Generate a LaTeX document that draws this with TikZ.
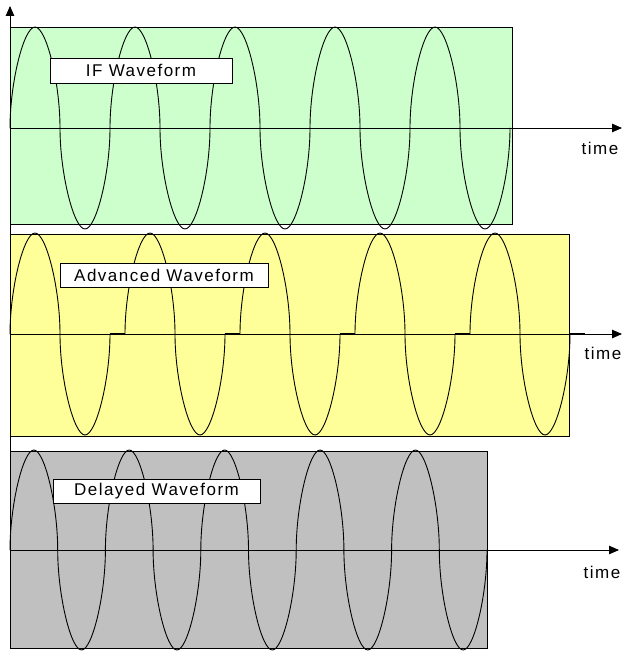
\documentclass[tikz,border=0pt]{standalone}
\usepackage{fontspec}
\newfontfamily\lblfont{Liberation Sans}[LetterSpace=8.8]
\usetikzlibrary{arrows.meta}
\definecolor{ifgreen}{HTML}{CCFFCC}
\definecolor{advyellow}{HTML}{FFFF99}
\definecolor{delgray}{HTML}{C0C0C0}
% one half wave: start x, quarter length, axis y, signed amplitude (positive = up)
\newcommand\wavehalf[4]{%
  \draw[wave] (#1,#3)
    .. controls (#1,{#3-0.45*#4}) and ({#1+0.55*#2},{#3-#4}) .. ({#1+#2},{#3-#4})
    .. controls ({#1+1.45*#2},{#3-#4}) and ({#1+2*#2},{#3-0.45*#4}) .. ({#1+2*#2},#3);}
\begin{document}
\begin{tikzpicture}[x=1pt,y=-1pt,
  panel/.style={draw=black, line width=0.9pt},
  wave/.style={draw=black, line width=0.9pt, line join=round, line cap=round},
  flat/.style={draw=black, line width=1.5pt},
  axis/.style={draw=black, line width=0.9pt, -{Triangle[length=10pt,width=8.5pt]}},
  tag/.style={draw=black, fill=white, line width=0.8pt, inner sep=0pt,
    font=\lblfont\fontsize{17}{20}\selectfont},
  timelbl/.style={inner sep=0pt, font=\lblfont\fontsize{17}{20}\selectfont}]
\useasboundingbox (0,0) rectangle (623,652);

% background panels
\path[panel, fill=ifgreen]   (10,27)  rectangle (512,224);
\path[panel, fill=advyellow] (10,234) rectangle (569,436);
\path[panel, fill=delgray]   (10,451) rectangle (487,648);

% axes
\coordinate (vb) at (10,649);
\coordinate (vt) at (10,6);
\coordinate (o1) at (10,128);  \coordinate (e1) at (622,128);
\coordinate (o2) at (10,334);  \coordinate (e2) at (622,334);
\coordinate (o3) at (10,550);  \coordinate (e3) at (619,550);
\draw[axis] (vb) -- (vt);
\draw[axis] (o1) -- (e1);
\draw[axis] (o2) -- (e2);
\draw[axis] (o3) -- (e3);

% IF waveform: five full periods
\foreach \i in {0,...,9}{
  \pgfmathsetmacro\xa{10+50*\i}
  \pgfmathsetmacro\amp{101*(1-2*mod(\i,2))}
  \wavehalf{\xa}{25}{128}{\amp}
}

% advanced waveform: each period followed by a short flat gap
\foreach \k in {0,...,4}{
  \pgfmathsetmacro\s{10+115*\k}
  \pgfmathsetmacro\m{\s+50}
  \pgfmathsetmacro\e{\s+100}
  \pgfmathsetmacro\f{\s+115}
  \wavehalf{\s}{25}{334}{101}
  \wavehalf{\m}{25}{334}{-101}
  \draw[flat] (\e,333.6) -- (\f,333.6);
}

% delayed waveform: stretched period of 95.4
\foreach \i in {0,...,9}{
  \pgfmathsetmacro\xa{10+47.7*\i}
  \pgfmathsetmacro\amp{100*(1-2*mod(\i,2))}
  \wavehalf{\xa}{23.85}{550}{\amp}
}

% labels
\node[tag, minimum width=182pt, minimum height=25pt] (lif)  at (141,70.5)  {IF Waveform};
\node[tag, minimum width=208pt, minimum height=24pt] (ladv) at (164,275)   {Advanced Waveform};
\node[tag, minimum width=207pt, minimum height=24pt] (ldel) at (156.5,491) {Delayed Waveform};

\node[timelbl] (t1) at (600,148) {time};
\node[timelbl] (t2) at (603,353) {time};
\node[timelbl] (t3) at (602,572) {time};
\end{tikzpicture}
\end{document}
